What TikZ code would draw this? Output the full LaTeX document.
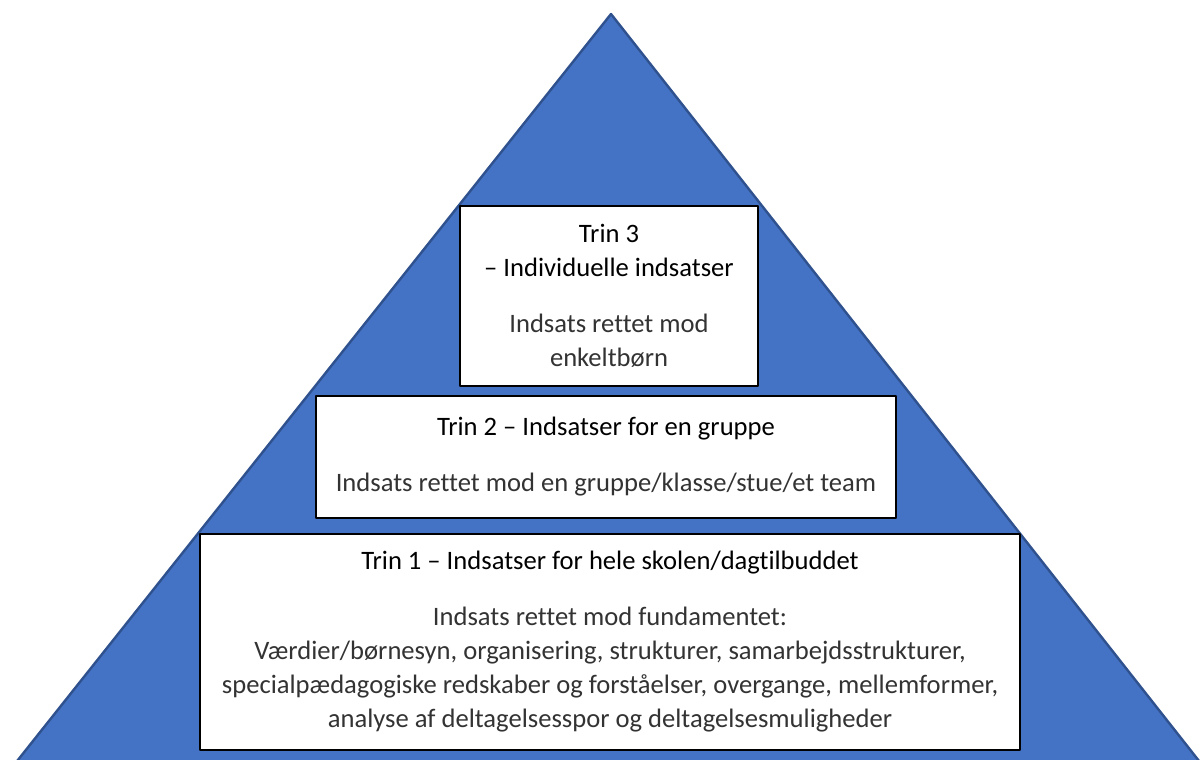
\documentclass[tikz,border=0pt]{standalone}
\usepackage{fontspec}
\setmainfont{Carlito}[Ligatures=NoCommon]
\usetikzlibrary{positioning}

\definecolor{pyrfill}{HTML}{4472C4}
\definecolor{pyrline}{HTML}{2F528F}

\tikzset{
  trinbox/.style={draw=black, line width=0.8pt, fill=white, align=center, inner sep=0pt,
    font=\fontsize{13.3}{17}\selectfont},
}
\newcommand{\trinhead}[1]{{\color{black}#1}}
\newcommand{\trinbody}[1]{{\color{black!80}#1}}

\begin{document}
\begin{tikzpicture}[x=0.5pt, y=-0.5pt, line cap=round, line join=round]

\useasboundingbox (0,0) rectangle (1200,760);
\clip (0,0) rectangle (1200,760);

% Pyramid

\coordinate (apex) at (611,14);
\coordinate (baseleft) at (2,780);
\coordinate (baseright) at (1214,780);

\draw[pyrline, line width=1.2pt, fill=pyrfill] (apex) -- (baseleft) -- (baseright) -- cycle;

% Steps (sizes in pt = px/2)

\node[trinbox, minimum width=149pt, minimum height=90pt] (trinthree) at (609,296)
  {\trinhead{Trin 3}\\ \trinhead{-- Individuelle indsatser}\\[11pt]
   \trinbody{Indsats rettet mod}\\ \trinbody{enkeltbørn}};

\node[trinbox, minimum width=290pt, minimum height=61pt] (trintwo) at (606,457)
  {\trinhead{Trin 2 -- Indsatser for en gruppe}\\[11pt]
   \trinbody{Indsats rettet mod en gruppe/klasse/stue/et team}};

\node[trinbox, minimum width=410pt, minimum height=108pt] (trinone) at (610,642)
  {\trinhead{Trin 1 -- Indsatser for hele skolen/dagtilbuddet}\\[11pt]
   \trinbody{Indsats rettet mod fundamentet:}\\
   \trinbody{Værdier/børnesyn, organisering, strukturer, samarbejdsstrukturer,}\\
   \trinbody{specialpædagogiske redskaber og forståelser, overgange, mellemformer,}\\
   \trinbody{analyse af deltagelsesspor og deltagelsesmuligheder}};

\end{tikzpicture}
\end{document}
